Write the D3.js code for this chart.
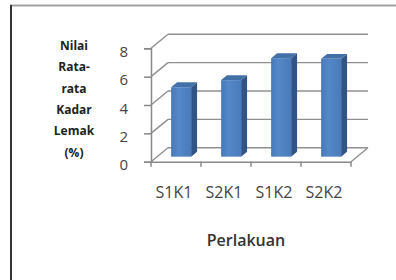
<!DOCTYPE html>
<html>
<head>
<meta charset="utf-8">
<script src="https://cdn.jsdelivr.net/npm/d3@7"></script>
<style>
  body { margin: 0; background: #fff; }
  text { font-family: "Open Sans", "Noto Sans", sans-serif; }
</style>
</head>
<body>
<svg width="396" height="280"></svg>
<script>
// data
const categories = ["S1K1", "S2K1", "S1K2", "S2K2"];
const values = [4.9, 5.4, 6.95, 6.9];
const yTicks = [0, 2, 4, 6, 8];
const yTitle = ["Nilai", "Rata-", "rata", "Kadar", "Lemak", "(%)"];
const xTitle = "Perlakuan";

const svg = d3.select("svg");

// fake 3d: offset of the back wall
const dx = 17, dy = -14;

const x = d3.scaleBand().domain(categories).range([151, 351]);
const y = d3.scaleLinear().domain([0, 8]).range([161.7, 48.3]);

// frame
svg.append("line").attr("x1", 10).attr("x2", 396).attr("y1", 5.5).attr("y2", 5.5)
  .attr("stroke", "#a0a0a0").attr("stroke-width", 2);
svg.append("line").attr("x1", 11).attr("x2", 11).attr("y1", 5).attr("y2", 280)
  .attr("stroke", "#333").attr("stroke-width", 2);

const grid = svg.append("g").attr("fill", "none").attr("stroke", "#8f8f8f").attr("stroke-width", 1.4);

// back wall gridlines + left wall diagonals
yTicks.forEach(t => {
  grid.append("line")
    .attr("x1", x.range()[0] + dx).attr("x2", x.range()[1] + dx)
    .attr("y1", y(t) + dy).attr("y2", y(t) + dy);
  grid.append("line")
    .attr("x1", x.range()[0]).attr("x2", x.range()[0] + dx)
    .attr("y1", y(t)).attr("y2", y(t) + dy);
});
// floor right edge
grid.append("line")
  .attr("x1", x.range()[1]).attr("x2", x.range()[1] + dx)
  .attr("y1", y(0)).attr("y2", y(0) + dy);

// bars
const d0 = 0.36, d1 = 0.71;
const defs = svg.append("defs");
const grad = defs.append("linearGradient").attr("id", "front").attr("x1", 0).attr("x2", 1);
grad.append("stop").attr("offset", 0).attr("stop-color", "#4878b8");
grad.append("stop").attr("offset", 0.35).attr("stop-color", "#5488c8");
grad.append("stop").attr("offset", 1).attr("stop-color", "#4a7aba");

const bars = svg.append("g");
categories.forEach((c, i) => {
  const bw = x.bandwidth();
  const xl = x(c) + 0.28 * bw + d0 * dx;
  const xr = xl + 0.4 * bw;
  const yb = y(0) + d0 * dy;
  const yt = y(values[i]) + d0 * dy;
  const ox = (d1 - d0) * dx, oy = (d1 - d0) * dy;
  // side
  bars.append("path")
    .attr("d", `M${xr},${yt}L${xr + ox},${yt + oy}L${xr + ox},${yb + oy}L${xr},${yb}Z`)
    .attr("fill", "#2f5485");
  // top
  bars.append("path")
    .attr("d", `M${xl},${yt}L${xl + ox},${yt + oy}L${xr + ox},${yt + oy}L${xr},${yt}Z`)
    .attr("fill", "#4470a8");
  // front
  bars.append("rect")
    .attr("x", xl).attr("y", yt).attr("width", xr - xl).attr("height", yb - yt)
    .attr("fill", "url(#front)");
});

// y axis
const yAxis = svg.append("g").attr("transform", `translate(${x.range()[0]},0)`)
  .call(d3.axisLeft(y).tickValues(yTicks).tickSize(7).tickPadding(16));
yAxis.select(".domain").attr("stroke", "#888").attr("stroke-width", 1.5);
yAxis.selectAll(".tick line").attr("stroke", "#888").attr("stroke-width", 1.5);
yAxis.selectAll(".tick text").attr("font-size", 15).attr("fill", "#444")
  .attr("font-family", "'Open Sans', sans-serif").attr("dy", "0.55em");

// x axis
const xAxis = svg.append("g").attr("transform", `translate(0,${y(0)})`)
  .call(d3.axisBottom(x).tickSize(0).tickPadding(25));
xAxis.select(".domain").attr("stroke", "#888").attr("stroke-width", 1.5);
xAxis.selectAll(".tick text").attr("font-size", 16).attr("fill", "#444")
  .attr("font-family", "'Open Sans', sans-serif").attr("dx", -2);
const bounds = x.domain().map(c => x(c) + x.bandwidth()).concat([x.range()[0]]);
xAxis.selectAll(".bt").data(bounds).enter().append("line")
  .attr("x1", d => d).attr("x2", d => d).attr("y1", 0).attr("y2", 5)
  .attr("stroke", "#888").attr("stroke-width", 1.5);

// titles
svg.append("text").attr("x", 246).attr("y", 246).attr("text-anchor", "middle")
  .attr("font-size", 16).attr("font-weight", 600).attr("fill", "#333").text(xTitle);

svg.append("g").selectAll("text").data(yTitle).enter().append("text")
  .attr("x", 74).attr("y", (d, i) => 50 + i * 21.3)
  .attr("text-anchor", "middle").attr("font-size", 12).attr("font-weight", 700)
  .attr("fill", "#222").text(d => d);
</script>
</body>
</html>
